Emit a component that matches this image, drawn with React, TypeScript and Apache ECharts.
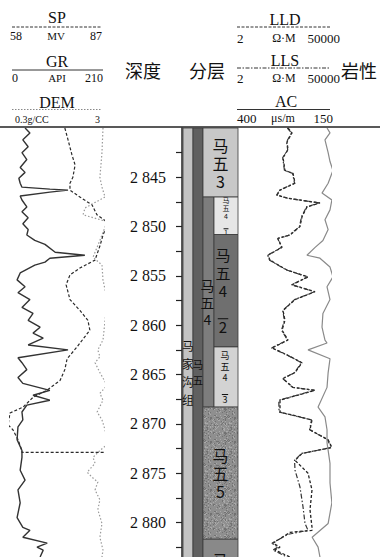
import React, { useEffect, useRef } from 'react';
import * as echarts from 'echarts';

// ---------- data ----------
const DEPTH_MIN = 2840;
const DEPTH_MAX = 2883.5;
const DEPTH_TICK = 2.5;
const DEPTH_LABEL_STEP = 5;

const curveNames = ['SP', 'GR', 'DEM', 'LLD', 'LLS', 'AC'];
const curveUnits = ['MV', 'API', '', 'Ω·M', 'Ω·M', 'μs/m'];
const scaleLeft = ['58', '0', '0.3g/CC', '2', '2', '400'];
const scaleRight = ['87', '210', '3', '50000', '50000', '150'];
const curveMin = [58, 0, 0.3, 2, 2, 150];
const curveMax = [87, 210, 3, 50000, 50000, 400];

// [depth m, value]
const SP: [number, number][] = [
  [2840.0, 75.1], [2841.2, 76.1], [2842.7, 77.3], [2843.75, 78.3], [2845.0, 77.6], [2845.6, 76.7],
  [2846.3, 76.7], [2847.0, 79.8], [2847.8, 83.6], [2848.8, 85.1], [2849.6, 88.6], [2850.85, 87.0],
  [2851.9, 86.1], [2853.4, 84.5], [2854.2, 79.8], [2854.9, 76.7], [2855.9, 75.5], [2857.4, 76.7],
  [2858.5, 79.8], [2859.5, 82.3], [2860.5, 82.9], [2862.2, 78.9], [2863.4, 75.8], [2864.5, 75.1],
  [2865.6, 73.6], [2866.6, 69.5], [2867.3, 65.2], [2868.3, 62.1], [2868.9, 58.0], [2870.1, 57.4],
  [2870.6, 58.9], [2871.6, 60.5], [2872.7, 61.7], [2872.9, 61.7], [2872.9, 88.2], [2883.5, 88.2],
];

const GR: [number, number][] = [
  [2840.0, 34], [2840.5, 45], [2841.2, 29], [2841.9, 41], [2842.5, 27], [2843.2, 38], [2844.0, 23],
  [2844.5, 34], [2845.1, 20], [2845.6, 23], [2846.0, 27], [2846.2, 90], [2846.3, 131], [2846.5, 90],
  [2846.9, 23], [2847.3, 27], [2848.0, 38], [2848.5, 27], [2849.1, 41], [2849.7, 29], [2850.3, 41],
  [2850.85, 38], [2851.4, 56], [2851.8, 79], [2852.6, 102], [2852.9, 169], [2853.2, 90], [2853.6, 79],
  [2853.9, 56], [2854.7, 23], [2855.4, 16], [2856.1, 34], [2856.7, 18], [2857.4, 45], [2858.2, 27],
  [2858.8, 52], [2859.5, 41], [2860.2, 68], [2860.8, 52], [2861.3, 75], [2862.0, 41], [2862.5, 131],
  [2863.3, 18], [2863.8, 27], [2864.5, 38], [2865.3, 18], [2865.9, 29], [2866.6, 90], [2867.1, 52],
  [2867.6, 90], [2868.1, 38], [2868.8, 27], [2869.6, 29], [2870.3, 18], [2871.6, 16], [2872.7, 27],
  [2873.4, 27], [2874.7, 23], [2875.7, 34], [2876.7, 18], [2878.0, 23], [2879.5, 16], [2880.5, 29],
  [2880.8, 45], [2881.5, 29], [2882.1, 84], [2882.5, 61], [2882.8, 75], [2883.5, 68],
];

const DEM: [number, number][] = [
  [2840.0, 3.0], [2842.5, 2.97], [2845.0, 2.91], [2846.0, 2.97], [2847.0, 3.06], [2848.1, 2.48],
  [2848.8, 2.42], [2849.5, 3.12], [2851.4, 2.91], [2853.1, 2.71], [2853.9, 2.97], [2855.4, 3.0],
  [2857.4, 3.12], [2859.5, 3.06], [2861.5, 3.0], [2862.5, 2.85], [2863.2, 2.91], [2863.8, 2.77],
  [2864.8, 2.91], [2866.1, 3.12], [2866.9, 2.91], [2867.6, 3.0], [2868.8, 2.83], [2869.6, 2.97],
  [2870.6, 3.06], [2872.1, 3.12], [2872.7, 2.91], [2873.4, 2.71], [2874.0, 2.77], [2874.9, 2.54],
  [2875.4, 2.68], [2875.9, 2.85], [2876.7, 2.77], [2877.7, 2.91], [2878.7, 2.85], [2880.1, 2.97],
  [2881.5, 2.91], [2882.8, 3.0], [2883.5, 2.97],
];

const LLD: [number, number][] = [
  [2840.0, 517], [2840.5, 800], [2841.4, 463], [2842.2, 517], [2843.0, 300], [2844.3, 372],
  [2844.6, 890], [2845.6, 1110], [2846.3, 216], [2846.8, 156], [2847.1, 463], [2847.5, 7850],
  [2847.6, 16800], [2848.0, 4080], [2849.0, 2370], [2850.0, 1900], [2850.85, 640], [2851.2, 174],
  [2852.1, 269], [2852.9, 58], [2853.4, 73], [2854.4, 463], [2855.1, 4560], [2855.9, 800],
  [2856.6, 9770], [2857.4, 1110], [2858.5, 300], [2859.5, 372], [2860.5, 269], [2861.5, 517],
  [2862.3, 90], [2863.0, 463], [2863.8, 2370], [2864.8, 1110], [2865.4, 300], [2866.3, 890],
  [2866.6, 9770], [2867.6, 216], [2868.8, 216], [2869.6, 7050], [2870.6, 5660], [2871.6, 40000],
  [2872.4, 62000], [2873.0, 2370], [2873.7, 1110], [2875.0, 4560], [2876.7, 7050], [2878.7, 5660],
  [2880.5, 7050], [2880.8, 7050], [2881.0, 640], [2882.1, 100], [2882.5, 216], [2882.8, 125],
  [2883.5, 640],
];

const LLS: [number, number][] = [
  [2840.0, 480], [2840.5, 760], [2841.4, 440], [2842.2, 500], [2843.0, 290], [2844.3, 350],
  [2844.6, 850], [2845.6, 1050], [2846.3, 205], [2846.8, 150], [2847.1, 440], [2847.5, 7400],
  [2847.6, 15500], [2848.0, 3900], [2849.0, 2250], [2850.0, 1800], [2850.85, 610], [2851.2, 168],
  [2852.1, 255], [2852.9, 56], [2853.4, 70], [2854.4, 440], [2855.1, 4300], [2855.9, 760],
  [2856.6, 9200], [2857.4, 1050], [2858.5, 290], [2859.5, 350], [2860.5, 255], [2861.5, 490],
  [2862.3, 86], [2863.0, 440], [2863.8, 2250], [2864.8, 1050], [2865.4, 290], [2866.3, 850],
  [2866.6, 9200], [2867.6, 190], [2868.8, 195], [2869.6, 6700], [2870.6, 5400], [2871.6, 38000],
  [2872.4, 58000], [2873.0, 2250], [2873.7, 1050], [2874.7, 1110], [2876.4, 1900], [2878.4, 2640],
  [2880.1, 3290], [2880.8, 4560], [2881.2, 517], [2882.1, 90], [2882.5, 174], [2882.8, 100],
  [2883.5, 463],
];

const AC: [number, number][] = [
  [2840.0, 158], [2840.5, 150], [2841.2, 163.5], [2842.5, 155], [2843.4, 150], [2844.3, 142],
  [2845.6, 155], [2846.6, 171.5], [2847.3, 145], [2848.3, 150], [2849.3, 163.5], [2850.3, 155],
  [2851.4, 169], [2852.1, 190], [2852.9, 212], [2853.2, 177], [2854.1, 150], [2855.1, 142],
  [2856.1, 158], [2857.4, 150], [2858.8, 169], [2860.2, 171.5], [2861.5, 163.5], [2861.8, 158],
  [2862.5, 209], [2863.4, 150], [2864.8, 155], [2866.3, 158], [2868.3, 182], [2869.3, 163.5],
  [2870.6, 158], [2871.9, 158], [2874.0, 150], [2876.0, 150], [2878.0, 145], [2880.1, 155],
  [2881.5, 198], [2882.5, 182], [2883.5, 177],
];

// stratigraphy
const strataNames = ['马家沟组', '马五', '马五3', '马五4', '马五4', '马五4', '马五4', '马五5', '马五6'];
const strataSub = ['', '', '', '', '1', '2', '3', '', ''];
const strataTop = [2840, 2840, 2840, 2847.0, 2847.0, 2850.8, 2862.2, 2868.3, 2881.7];
const strataBottom = [2889.5, 2889.5, 2847.0, 2868.3, 2850.8, 2862.2, 2868.3, 2881.7, 2889.5];

// ---------- layout / style ----------
const PLOT_TOP = 128;
const PLOT_H = 429;
const COL_EDGES = [1, 11, 21, 32, 56];
const STRATA_COLS = [[0, 1], [1, 2], [2, 4], [2, 3], [3, 4], [3, 4], [3, 4], [2, 4], [2, 4]];
const STRATA_FILL: any[] = ['#c3c3c3', '#606060', '#c8c8c8', '#7d7d7d', '#e6e6e6', '#6f6f6f', '#d3d3d3', 'SPECKLE', '#898989'];
const LABEL_FS = [12, 11, 16, 14, 7, 15, 9, 16, 16];
const LABEL_LH = [18, 16, 18, 17, 8, 18, 11, 18, 18];
const LABEL_DX = [0, 0, 0, -1, 0, -3, -1, 0, 0];

const SERIF_FAMILY = 'Liberation Serif, serif';
const SERIF = '"Liberation Serif", serif';
const CJK = '"Noto Sans CJK SC", sans-serif';

const HDR = [
  { cx: 57, ty: 17, ly: 27, sy: 36, x0: 12, x1: 102, lx: 10, rx: 102, ux: 56, fs: 12, dash: [3, 1.5], color: '#333' },
  { cx: 57, ty: 61, ly: 70, sy: 78, x0: 12, x1: 103, lx: 12, rx: 103, ux: 57, fs: 12, dash: null, color: '#333' },
  { cx: 57, ty: 102, ly: 109.5, sy: 119, x0: 12, x1: 102, lx: 15, rx: 100, ux: 57, fs: 10, dash: [1.5, 1.5], color: '#888' },
  { cx: 285, ty: 19, ly: 27, sy: 38, x0: 237, x1: 330, lx: 237, rx: 340, ux: 284, fs: 13, dash: [3, 1.5], color: '#333' },
  { cx: 285, ty: 60, ly: 68, sy: 78, x0: 237, x1: 330, lx: 237, rx: 340, ux: 284, fs: 13, dash: [4, 1.5, 1.5, 1.5], color: '#333' },
  { cx: 286, ty: 101, ly: 109.5, sy: 118, x0: 237, x1: 330, lx: 237, rx: 333, ux: 283, fs: 13, dash: null, color: '#333' },
];

function makeSpeckle(): any {
  const size = 24;
  const c = document.createElement('canvas');
  c.width = size;
  c.height = size;
  const g = c.getContext('2d');
  if (!g) return '#8f8f8f';
  g.fillStyle = '#8f8f8f';
  g.fillRect(0, 0, size, size);
  let s = 12345;
  const next = () => {
    s = (Math.imul(s, 1103515245) + 12345) >>> 0;
    return s >>> 8;
  };
  for (let k = 0; k < 170; k++) {
    const x = next() % size;
    const y = next() % size;
    g.fillStyle = next() % 2 ? '#a9a9a9' : '#727272';
    g.fillRect(x, y, 1, 1);
  }
  return { image: c, repeat: 'repeat' };
}

function headerGraphics() {
  const els: any[] = [];
  curveNames.forEach((name, i) => {
    const h = HDR[i];
    els.push({ type: 'text', x: h.cx, y: h.ty, style: { text: name, font: `16px ${SERIF}`, fill: '#111', textAlign: 'center', textVerticalAlign: 'middle' } });
    els.push({ type: 'line', shape: { x1: h.x0, y1: h.ly, x2: h.x1, y2: h.ly }, style: { stroke: h.color, lineWidth: 1, lineDash: h.dash || undefined } });
    els.push({ type: 'text', x: h.lx, y: h.sy, style: { text: scaleLeft[i], font: `${h.fs}px ${SERIF}`, fill: '#111', textAlign: 'left', textVerticalAlign: 'middle' } });
    if (curveUnits[i]) {
      els.push({ type: 'text', x: h.ux, y: h.sy, style: { text: curveUnits[i], font: `${h.fs - 1}px ${SERIF}`, fill: '#111', textAlign: 'center', textVerticalAlign: 'middle' } });
    }
    els.push({ type: 'text', x: h.rx, y: h.sy, style: { text: scaleRight[i], font: `${h.fs}px ${SERIF}`, fill: '#111', textAlign: 'right', textVerticalAlign: 'middle' } });
  });
  const titles: [string, number][] = [['深度', 143], ['分层', 207], ['岩性', 359]];
  titles.forEach(([t, x]) => {
    els.push({ type: 'text', x, y: 70, style: { text: t, font: `18px ${CJK}`, fill: '#111', textAlign: 'center', textVerticalAlign: 'middle' } });
  });
  els.push({ type: 'line', shape: { x1: 0, y1: 127, x2: 380, y2: 127 }, style: { stroke: '#222', lineWidth: 1.6 } });
  return els;
}

function depthLabel(v: number) {
  const k = v / DEPTH_LABEL_STEP;
  if (Math.abs(k - Math.round(k)) > 1e-6 || Math.abs(v - DEPTH_MIN) < 1e-6) return '';
  const n = Math.round(v);
  return `${Math.floor(n / 1000)} ${String(n % 1000).padStart(3, '0')}`;
}

function buildOption(): any {
  const speckle = makeSpeckle();
  const yBase = { type: 'value', min: DEPTH_MIN, max: DEPTH_MAX, inverse: true };
  const hiddenY = { ...yBase, show: false, splitLine: { show: false } };
  const lineSeries = (data: [number, number][], xi: number, yi: number, style: any) => ({
    type: 'line',
    xAxisIndex: xi,
    yAxisIndex: yi,
    data: data.map(([d, v]) => [v, d]),
    symbol: 'none',
    showSymbol: false,
    clip: false,
    silent: true,
    lineStyle: style,
    z: 3,
  });
  return {
    animation: false,
    backgroundColor: '#fff',
    grid: [
      { left: 10, top: PLOT_TOP, width: 93, height: PLOT_H },
      { left: 182, top: PLOT_TOP, width: 56, height: PLOT_H },
      { left: 237, top: PLOT_TOP, width: 93, height: PLOT_H },
    ],
    xAxis: [
      { gridIndex: 0, type: 'value', min: curveMin[0], max: curveMax[0], show: false, splitLine: { show: false } },
      { gridIndex: 0, type: 'value', min: curveMin[1], max: curveMax[1], show: false, splitLine: { show: false } },
      { gridIndex: 0, type: 'value', min: curveMin[2], max: curveMax[2], show: false, splitLine: { show: false } },
      { gridIndex: 1, type: 'value', min: 0, max: 56, show: false, splitLine: { show: false } },
      { gridIndex: 2, type: 'log', logBase: 10, min: curveMin[3], max: curveMax[3], show: false, splitLine: { show: false } },
      { gridIndex: 2, type: 'log', logBase: 10, min: curveMin[4], max: curveMax[4], show: false, splitLine: { show: false } },
      { gridIndex: 2, type: 'value', min: curveMin[5], max: curveMax[5], inverse: true, show: false, splitLine: { show: false } },
    ],
    yAxis: [
      { ...hiddenY, gridIndex: 0 },
      {
        ...yBase,
        gridIndex: 1,
        interval: DEPTH_TICK,
        position: 'left',
        axisLine: { show: true, lineStyle: { color: '#222', width: 1.5 } },
        axisTick: { show: true, length: 6, lineStyle: { color: '#222', width: 1.2 } },
        splitLine: { show: false },
        axisLabel: {
          show: true,
          showMinLabel: false,
          showMaxLabel: false,
          margin: 16,
          fontSize: 16,
          fontFamily: SERIF_FAMILY,
          color: '#111',
          formatter: (v: number) => depthLabel(v),
        },
      },
      { ...hiddenY, gridIndex: 2 },
    ],
    graphic: headerGraphics(),
    series: [
      {
        type: 'custom',
        xAxisIndex: 3,
        yAxisIndex: 1,
        silent: true,
        z: 2,
        data: strataNames.map((_, i) => [i, strataTop[i], strataBottom[i]]),
        renderItem: (_params: any, api: any) => {
          const i = api.value(0);
          const cols = STRATA_COLS[i];
          const p0 = api.coord([COL_EDGES[cols[0]], strataTop[i]]);
          const p1 = api.coord([COL_EDGES[cols[1]], strataBottom[i]]);
          const x0 = p0[0];
          const y0 = p0[1];
          const w = p1[0] - p0[0];
          const h = p1[1] - p0[1];
          const cx = x0 + w / 2 + LABEL_DX[i];
          const cy = y0 + h / 2;
          const fs = LABEL_FS[i];
          const lh = LABEL_LH[i];
          const chars = strataNames[i].split('');
          const sub = strataSub[i];
          const lines = sub ? [...chars, '', sub] : chars;
          const fill = STRATA_FILL[i] === 'SPECKLE' ? speckle : STRATA_FILL[i];
          const children: any[] = [
            { type: 'rect', shape: { x: x0, y: y0, width: w, height: h }, style: { fill, stroke: '#3a3a3a', lineWidth: 0.8 } },
            {
              type: 'text',
              style: {
                text: lines.join('\n'),
                x: cx,
                y: cy,
                textAlign: 'center',
                textVerticalAlign: 'middle',
                font: `${fs}px ${CJK}`,
                lineHeight: lh,
                fill: '#111',
              },
            },
          ];
          if (sub) {
            const top = cy - (lines.length * lh) / 2;
            const ly = top + (lines.length - 1) * lh + 1;
            children.push({ type: 'line', shape: { x1: cx - fs * 0.35, y1: ly, x2: cx + fs * 0.35, y2: ly }, style: { stroke: '#111', lineWidth: 1 } });
          }
          return { type: 'group', children };
        },
      },
      lineSeries(SP, 0, 0, { color: '#2a2a2a', width: 1.2, type: [3, 2] }),
      lineSeries(GR, 1, 0, { color: '#333', width: 1.4, type: 'solid' }),
      lineSeries(DEM, 2, 0, { color: '#9a9a9a', width: 1.2, type: [1.5, 2] }),
      lineSeries(LLD, 4, 2, { color: '#222', width: 1.3, type: [3, 2] }),
      lineSeries(LLS, 5, 2, { color: '#333', width: 1.2, type: [5, 2, 1.5, 2] }),
      lineSeries(AC, 6, 2, { color: '#8a8a8a', width: 1.2, type: 'solid' }),
    ],
  };
}

export default function App() {
  const ref = useRef<HTMLDivElement>(null);
  useEffect(() => {
    document.body.style.margin = '0';
    const chart = echarts.init(ref.current as HTMLDivElement, null, { renderer: 'svg' });
    chart.setOption(buildOption());
    return () => chart.dispose();
  }, []);
  return (
    <div
      ref={ref}
      style={{ position: 'absolute', left: 0, top: 0, width: 380, height: 557, background: '#fff', overflow: 'hidden' }}
    />
  );
}
